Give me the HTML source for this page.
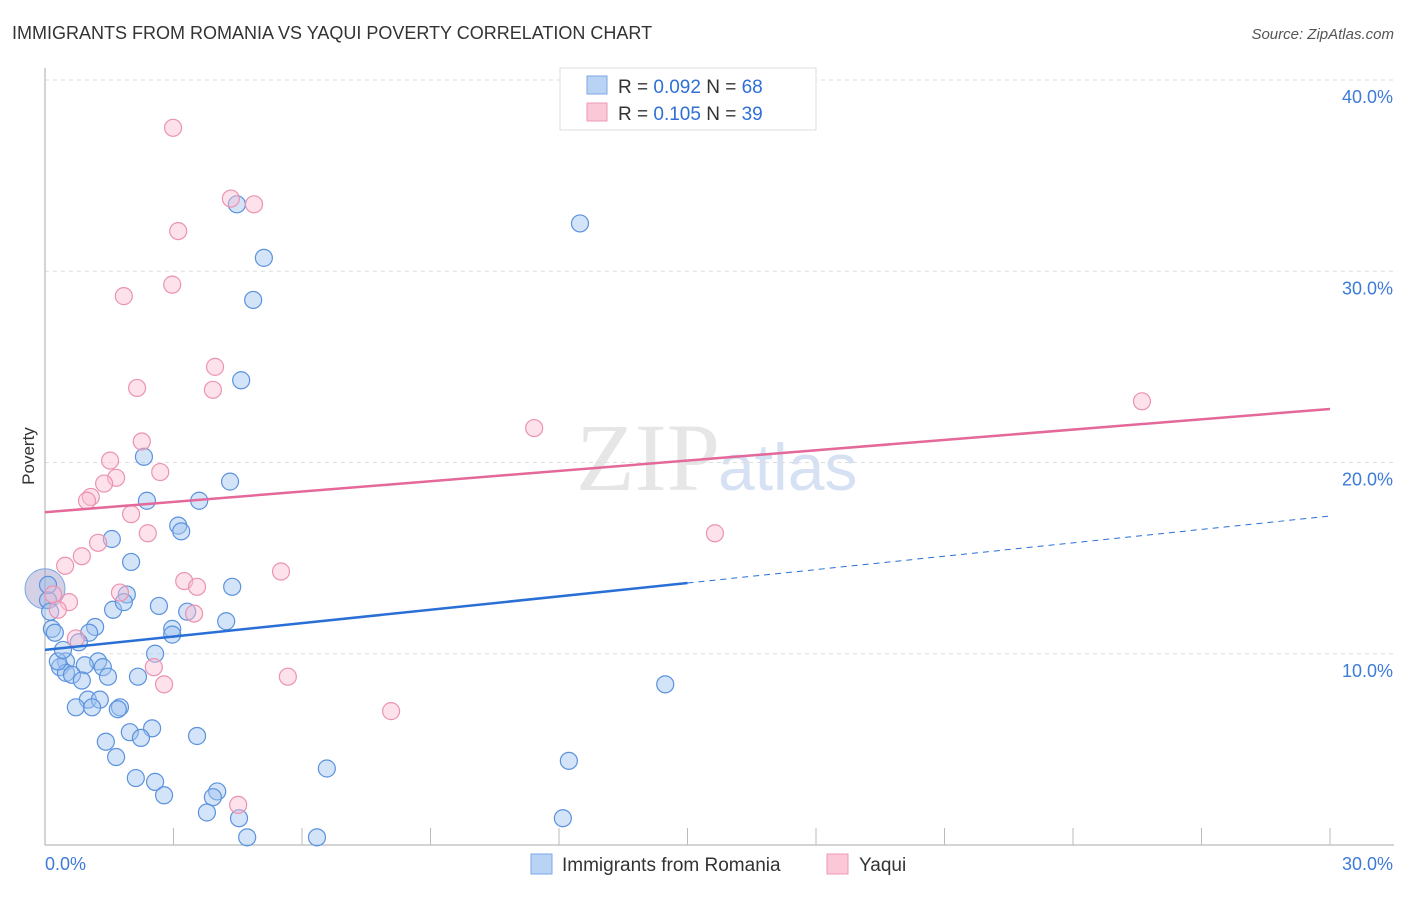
<!DOCTYPE html>
<html><head><meta charset="utf-8"><style>
body{margin:0;background:#fff;font-family:"Liberation Sans",sans-serif}
#wrap{position:relative;width:1406px;height:892px}
</style></head><body>
<div id="wrap">
<svg id="svg" width="1406" height="892" xmlns="http://www.w3.org/2000/svg">
<text x="12" y="39" font-size="18" fill="#333">IMMIGRANTS FROM ROMANIA VS YAQUI POVERTY CORRELATION CHART</text>
<text x="1394" y="39" font-size="15" fill="#555" font-style="italic" text-anchor="end">Source: ZipAtlas.com</text>
<text x="34" y="456" font-size="17" fill="#333" transform="rotate(-90 34 456)" text-anchor="middle">Poverty</text>
<text x="720" y="490" font-size="96" fill="#e6e6e6" font-family="Liberation Serif" text-anchor="end">ZIP</text>
<text x="718" y="490" font-size="66" fill="#d6e2f4">atlas</text>
<g id="grid"></g><g id="axes"></g><g id="pts"></g><g id="lines"></g>
<g>
<rect x="560" y="68" width="256" height="62" fill="#fff" stroke="#ddd"/>
<rect x="587" y="76" width="20" height="18" fill="#b9d3f5" stroke="#7aa7e6"/>
<rect x="587" y="103" width="20" height="18" fill="#fbc8d8" stroke="#ee9ab4"/>
<text x="618" y="93" font-size="19" fill="#333">R = <tspan fill="#2f6fd6">0.092</tspan>   N = <tspan fill="#2f6fd6">68</tspan></text>
<text x="618" y="120" font-size="19" fill="#333">R =  <tspan fill="#2f6fd6">0.105</tspan>   N = <tspan fill="#2f6fd6">39</tspan></text>
</g>
<g>
<rect x="531" y="854" width="21" height="20" fill="#b9d3f5" stroke="#7aa7e6"/>
<text x="562" y="871" font-size="19" fill="#333">Immigrants from Romania</text>
<rect x="827" y="854" width="21" height="20" fill="#fbc8d8" stroke="#ee9ab4"/>
<text x="859" y="871" font-size="19" fill="#333">Yaqui</text>
</g>
</svg></div>
<script>
const yTicks=[10,20,30,40];
const yTickLabels=["10.0%","20.0%","30.0%","40.0%"];
const xTickLabels=["0.0%","30.0%"];
const blueX=[4.48,12.49,5.11,4.86,4.58,2.31,4.32,2.38,3.60,1.56,3.11,3.18,2.01,4.37,1.91,1.59,1.84,2.66,3.32,4.23,1.17,1.03,2.97,2.97,0.79,0.16,0.23,2.57,0.49,0.35,1.24,1.35,0.93,0.49,0.63,0.86,1.47,2.17,1.00,1.28,1.75,1.70,0.72,1.10,14.48,2.50,1.98,2.24,3.55,1.42,1.66,12.23,6.58,2.12,2.57,2.78,4.02,3.92,3.78,4.53,12.09,4.72,6.35,0.07,0.12,0.30,0.07,0.42];
const blueY=[33.5,32.5,30.7,28.5,24.3,20.3,19.0,18.0,18.0,16.0,16.7,16.4,14.8,13.5,13.1,12.3,12.7,12.5,12.2,11.7,11.4,11.1,11.3,11.0,10.6,11.3,11.1,10.0,9.6,9.3,9.6,9.3,9.4,9.0,8.9,8.6,8.8,8.8,7.6,7.6,7.2,7.1,7.2,7.2,8.4,6.1,5.9,5.6,5.7,5.4,4.6,4.4,4.0,3.5,3.3,2.6,2.8,2.5,1.7,1.4,1.4,0.4,0.4,12.8,12.2,9.6,13.6,10.2];
const pinkX=[2.99,4.34,4.88,3.11,2.97,1.84,3.97,2.15,3.92,11.42,25.61,2.26,1.52,2.69,1.66,1.38,1.07,0.98,2.01,2.40,1.24,0.86,0.47,5.51,3.25,3.55,1.75,0.19,0.56,0.30,3.48,0.72,2.54,15.64,5.67,2.78,8.08,4.51,0.0];
const pinkY=[37.5,33.8,33.5,32.1,29.3,28.7,25.0,23.9,23.8,21.8,23.2,21.1,20.1,19.5,19.2,18.9,18.2,18.0,17.3,16.3,15.8,15.1,14.6,14.3,13.8,13.5,13.2,13.1,12.7,12.3,12.1,10.8,9.3,16.3,8.8,8.4,7.0,2.1,13.4];
const blueTrend=[0,10.2,15,13.7,30,17.2];
const pinkTrend=[0,17.4,30,22.8];
const X0=45,X1=1330,Y0=845,Y40=80;
const sx=v=>X0+(X1-X0)*v/30, sy=v=>Y0-(Y0-Y40)*v/40;
const NS="http://www.w3.org/2000/svg";
function mk(tag,attrs,parent){const e=document.createElementNS(NS,tag);for(const k in attrs)e.setAttribute(k,attrs[k]);document.getElementById(parent).appendChild(e);return e;}
yTicks.forEach((t,i)=>{
 const l=mk('line',{x1:X0,x2:1394,y1:sy(t),y2:sy(t),stroke:'#ddd','stroke-dasharray':'4,4'},'grid');
 
 
 const tx=mk('text',{x:1393,y:sy(t)+23,'font-size':18,fill:'#3d7bd9','text-anchor':'end'},'axes');
 tx.textContent=yTickLabels[i];
 
 
});
const ax=mk('line',{x1:X0,x2:X0,y1:68,y2:Y0,stroke:'#aaa'},'axes');


const bx=mk('line',{x1:X0,x2:1394,y1:Y0,y2:Y0,stroke:'#aaa'},'axes');


for(let i=1;i<=10;i++){const t=mk('line',{x1:sx(i*3),x2:sx(i*3),y1:828,y2:Y0,stroke:'#bbb'},'axes');
 
 }
[[0,'start'],[30,'end']].forEach((p,i)=>{const t=mk('text',{x:i?1393:45,y:870,'font-size':18,fill:'#3d7bd9','text-anchor':p[1]},'axes');t.textContent=xTickLabels[i];
 
 });
const big=mk('circle',{cx:sx(0),cy:sy(13.4),r:20,fill:'rgba(160,150,200,0.45)',stroke:'#7aa7e6'},'pts');


blueX.forEach((x,i)=>{const c=mk('circle',{cx:sx(x),cy:sy(blueY[i]),r:8.5,fill:'rgba(160,196,240,0.45)',stroke:'#5b92de','stroke-width':1.2},'pts');
 
 });
pinkX.slice(0,-1).forEach((x,i)=>{const c=mk('circle',{cx:sx(x),cy:sy(pinkY[i]),r:8.5,fill:'rgba(250,190,210,0.45)',stroke:'#eb93b0','stroke-width':1.2},'pts');
 
 });
const b1=mk('line',{x1:sx(blueTrend[0]),y1:sy(blueTrend[1]),x2:sx(blueTrend[2]),y2:sy(blueTrend[3]),stroke:'#2a6fd6','stroke-width':2.5},'lines');


const b2=mk('line',{x1:sx(blueTrend[2]),y1:sy(blueTrend[3]),x2:sx(blueTrend[4]),y2:sy(blueTrend[5]),stroke:'#2a6fd6','stroke-width':1,'stroke-dasharray':'6,5'},'lines');


const p1=mk('line',{x1:sx(pinkTrend[0]),y1:sy(pinkTrend[1]),x2:sx(pinkTrend[2]),y2:sy(pinkTrend[3]),stroke:'#e4689a','stroke-width':2.5},'lines');


</script>
</body></html>
